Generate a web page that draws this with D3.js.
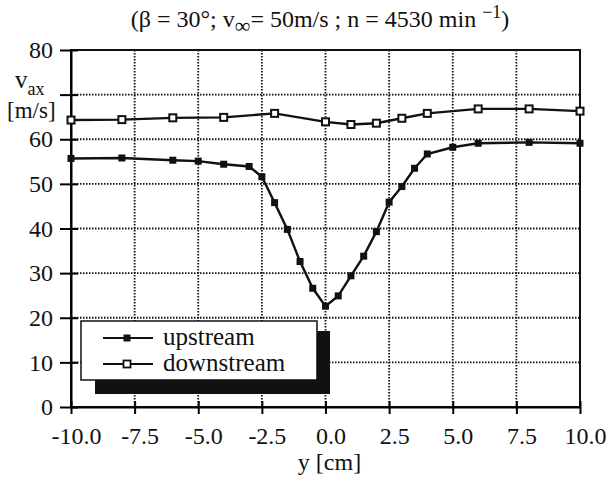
<!DOCTYPE html>
<html><head><meta charset="utf-8">
<script src="https://cdn.jsdelivr.net/npm/d3@7"></script>
</head><body style="margin:0"><svg id="c" width="612" height="481"></svg>
<script>
const xTicks = [-10, -7.5, -5, -2.5, 0, 2.5, 5, 7.5, 10];
const xTickLabels = ["-10.0", "-7.5", "-5.0", "-2.5", "0.0", "2.5", "5.0", "7.5", "10.0"];
const yTicks = [0, 10, 20, 30, 40, 50, 60, 70, 80];
const yTickLabels = ["0", "10", "20", "30", "40", "50", "60", "", "80"];
const upX = [-10, -8, -6, -5, -4, -3, -2.5, -2, -1.5, -1, -0.5, 0, 0.5, 1, 1.5, 2, 2.5, 3, 3.5, 4, 5, 6, 8, 10];
const upY = [55.7, 55.8, 55.3, 55.1, 54.4, 53.9, 51.6, 45.8, 39.8, 32.6, 26.6, 22.6, 24.9, 29.4, 33.8, 39.3, 45.9, 49.4, 53.5, 56.7, 58.2, 59.1, 59.3, 59.1];
const downX = [-10, -8, -6, -4, -2, 0, 1, 2, 3, 4, 6, 8, 10];
const downY = [64.3, 64.4, 64.8, 64.9, 65.8, 63.9, 63.3, 63.6, 64.7, 65.8, 66.8, 66.8, 66.3];
const seriesNames = ["upstream", "downstream"];

const svg = d3.select("#c");
const L = 71, R = 580, T = 50, B = 407;
const x = d3.scaleLinear().domain([-10, 10]).range([L, R]);
const y = d3.scaleLinear().domain([0, 80]).range([B, T]);
const txt = sel => sel.attr("font-family", "Liberation Serif").style("font-family", () => '"Liberation Serif"').attr("fill", "#111");

// grid
const g = svg.append("g");
g.selectAll("line.gx").data(xTicks.slice(1, -1)).join("line")
  .attr("x1", d => x(d)).attr("x2", d => x(d)).attr("y1", T).attr("y2", B)
  .attr("stroke", "#111").attr("stroke-width", 1.8).attr("stroke-dasharray", "1.5,1.5");
g.selectAll("line.gy").data(yTicks.slice(1, -1)).join("line")
  .attr("y1", d => y(d)).attr("y2", d => y(d)).attr("x1", L).attr("x2", R)
  .attr("stroke", "#111").attr("stroke-width", 1.8).attr("stroke-dasharray", "1.5,1.5");

// frame
svg.append("rect").attr("x", L).attr("y", T).attr("width", R - L).attr("height", B - T)
  .attr("fill", "none").attr("stroke", "#111").attr("stroke-width", 2);

// axes
const xa = svg.append("g").attr("transform", `translate(0,${B})`)
  .call(d3.axisBottom(x).tickValues(xTicks).tickFormat((d, i) => xTickLabels[i]).tickSizeInner(7).tickSizeOuter(0).tickPadding(13));
xa.attr("font-family", "Liberation Serif").attr("font-size", 24);
xa.select(".domain").attr("stroke-width", 2);
xa.selectAll(".tick line").attr("y1", -6).attr("stroke-width", 2);
xa.selectAll("text").call(txt).attr("font-size", 24).attr("dx", 5);

const ya = svg.append("g").attr("transform", `translate(${L},0)`)
  .call(d3.axisLeft(y).tickValues(yTicks).tickFormat((d, i) => yTickLabels[i]).tickSizeInner(11).tickSizeOuter(0).tickPadding(7));
ya.attr("font-family", "Liberation Serif").attr("font-size", 24);
ya.select(".domain").attr("stroke-width", 2);
ya.selectAll(".tick line").attr("x1", 7).attr("stroke-width", 2);
ya.selectAll("text").call(txt).attr("font-size", 24);

// lines
const line = d3.line().x(d => x(d[0])).y(d => y(d[1]));
const up = upX.map((v, i) => [v, upY[i]]);
const dn = downX.map((v, i) => [v, downY[i]]);
svg.append("path").datum(dn).attr("d", line).attr("fill", "none").attr("stroke", "#111").attr("stroke-width", 2.4);
svg.append("path").datum(up).attr("d", line).attr("fill", "none").attr("stroke", "#111").attr("stroke-width", 2.4);
const ms = 7;
svg.selectAll("rect.dn").data(dn).join("rect")
  .attr("x", d => x(d[0]) - ms / 2).attr("y", d => y(d[1]) - ms / 2).attr("width", ms).attr("height", ms)
  .attr("fill", "#fff").attr("stroke", "#111").attr("stroke-width", 2);
svg.selectAll("rect.up").data(up).join("rect")
  .attr("x", d => x(d[0]) - ms / 2).attr("y", d => y(d[1]) - ms / 2).attr("width", ms).attr("height", ms)
  .attr("fill", "#111");

// legend
svg.append("rect").attr("x", 95).attr("y", 331).attr("width", 235).attr("height", 63).attr("fill", "#111");
svg.append("rect").attr("x", 81).attr("y", 321).attr("width", 236).attr("height", 59)
  .attr("fill", "#fff").attr("stroke", "#111").attr("stroke-width", 1.5);
const ly = [338, 364];
seriesNames.forEach((n, i) => {
  svg.append("line").attr("x1", 103).attr("x2", 153).attr("y1", ly[i]).attr("y2", ly[i]).attr("stroke", "#111").attr("stroke-width", 2);
  svg.append("rect").attr("x", 127 - ms / 2).attr("y", ly[i] - ms / 2).attr("width", ms).attr("height", ms)
    .attr("fill", i === 0 ? "#111" : "#fff").attr("stroke", "#111").attr("stroke-width", i === 0 ? 0 : 1.8);
});
svg.selectAll("text.leg").data(seriesNames).join("text").attr("class", "leg")
  .attr("x", 163).attr("y", (d, i) => ly[i] + 7).attr("font-size", 25).call(txt).text(d => d);

// title
const t = svg.append("text").attr("x", 320).attr("y", 27).attr("text-anchor", "middle").attr("font-size", 24).call(txt);
t.append("tspan").text("(β = 30°; v");
t.append("tspan").attr("dy", 6).attr("font-size", 22).text("∞");
t.append("tspan").attr("dy", -6).text("= 50m/s ; n  = 4530 min ");
t.append("tspan").attr("dy", -9).attr("font-size", 18).text("−1");
t.append("tspan").attr("dy", 9).text(")");

// y label
const yl = svg.append("text").attr("x", 15).attr("y", 88).attr("font-size", 25).call(txt);
yl.append("tspan").text("v");
yl.append("tspan").attr("dy", 7).attr("font-size", 18).text("ax");
svg.append("text").attr("x", 7).attr("y", 118).attr("font-size", 23).call(txt).text("[m/s]");

// x label
svg.append("text").attr("x", x(0) + 4).attr("y", 470).attr("text-anchor", "middle").attr("font-size", 24).call(txt).text("y [cm]");
</script></body></html>
